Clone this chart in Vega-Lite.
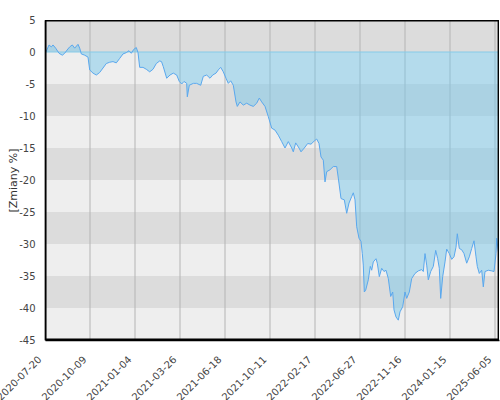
{
  "$schema": "https://vega.github.io/schema/vega-lite/v6.json",
  "width": 454,
  "height": 320,
  "autosize": "none",
  "padding": {"left": 45, "top": 20, "right": 1, "bottom": 60},
  "config": {
    "font": "DejaVu Sans",
    "view": {"stroke": null},
    "axis": {
      "labelOverlap": false,
      "labelBound": false,
      "labelFontSize": 10,
      "labelColor": "#444"
    },
    "axisX": {
      "labelAngle": -45,
      "labelAlign": "right",
      "labelOffset": -9,
      "labelPadding": 14
    },
    "axisY": {
      "labelPadding": 10,
      "titleFontSize": 11,
      "titleFontWeight": "normal",
      "titleColor": "#333"
    }
  },
  "datasets": {
    "bands": [
      {"top": 5, "bottom": 0, "shade": "dark"},
      {"top": 0, "bottom": -5, "shade": "light"},
      {"top": -5, "bottom": -10, "shade": "dark"},
      {"top": -10, "bottom": -15, "shade": "light"},
      {"top": -15, "bottom": -20, "shade": "dark"},
      {"top": -20, "bottom": -25, "shade": "light"},
      {"top": -25, "bottom": -30, "shade": "dark"},
      {"top": -30, "bottom": -35, "shade": "light"},
      {"top": -35, "bottom": -40, "shade": "dark"},
      {"top": -40, "bottom": -45, "shade": "light"}
    ],
    "ticks": [
      {"t": 0}, {"t": 45}, {"t": 90}, {"t": 135}, {"t": 180}, {"t": 225},
      {"t": 270}, {"t": 315}, {"t": 360}, {"t": 405}, {"t": 450}
    ],
    "zero": [{"z": 0}],
    "edges": [
      {"x0": 0, "x1": 454, "y0": 4.78, "y1": 5},
      {"x0": 0, "x1": 454, "y0": -45, "y1": -44.78},
      {"x0": 0, "x1": 1.4, "y0": -45, "y1": 5},
      {"x0": 452.6, "x1": 454, "y0": -45, "y1": 5}
    ],
    "series": [
      {"t": 0, "v": 0}, {"t": 1.3, "v": 0.1}, {"t": 4, "v": 1.1}, {"t": 6.3, "v": 0.8},
      {"t": 8, "v": 1.1}, {"t": 10.7, "v": 0.6}, {"t": 14, "v": -0.2}, {"t": 17.3, "v": -0.5},
      {"t": 19.7, "v": -0.2}, {"t": 22, "v": 0.3}, {"t": 24.7, "v": 0.8}, {"t": 27.3, "v": 1.1},
      {"t": 29.7, "v": 0.6}, {"t": 33, "v": 1.2}, {"t": 34.7, "v": 0.6}, {"t": 36.3, "v": -0.3},
      {"t": 39.7, "v": -0.5}, {"t": 43, "v": -0.8}, {"t": 44.7, "v": -2.8}, {"t": 48, "v": -3.3},
      {"t": 51.3, "v": -3.6}, {"t": 54.7, "v": -3.2}, {"t": 58, "v": -2.5}, {"t": 61.3, "v": -1.8},
      {"t": 64.7, "v": -1.6}, {"t": 68, "v": -1.5}, {"t": 71.3, "v": -1.7}, {"t": 74.7, "v": -1.0},
      {"t": 78, "v": -0.3}, {"t": 81.3, "v": -0.1}, {"t": 84, "v": 0.2}, {"t": 86.3, "v": -0.2},
      {"t": 88.7, "v": 0.4}, {"t": 91.3, "v": 0.7}, {"t": 93, "v": -0.1}, {"t": 94.7, "v": -2.4},
      {"t": 98, "v": -2.4}, {"t": 101.3, "v": -2.7}, {"t": 104.7, "v": -3.1}, {"t": 108, "v": -2.7},
      {"t": 111.3, "v": -1.8}, {"t": 114.7, "v": -1.4}, {"t": 116.5, "v": -1.5}, {"t": 118.3, "v": -2.3},
      {"t": 121.7, "v": -4.1}, {"t": 125, "v": -3.6}, {"t": 128.3, "v": -3.3}, {"t": 131.7, "v": -3.6},
      {"t": 134.3, "v": -4.6}, {"t": 136.7, "v": -5.0}, {"t": 139, "v": -4.6}, {"t": 141.7, "v": -4.9},
      {"t": 142.3, "v": -7.0}, {"t": 144.3, "v": -5.2}, {"t": 148.3, "v": -4.9}, {"t": 151.7, "v": -4.9},
      {"t": 155.7, "v": -5.2}, {"t": 158.3, "v": -3.8}, {"t": 161.7, "v": -3.6}, {"t": 165, "v": -4.1},
      {"t": 167.7, "v": -3.6}, {"t": 171, "v": -3.3}, {"t": 173.3, "v": -2.8}, {"t": 175.7, "v": -2.4},
      {"t": 178.3, "v": -3.1}, {"t": 181, "v": -4.1}, {"t": 183.3, "v": -4.9}, {"t": 185.7, "v": -4.5},
      {"t": 188.3, "v": -5.2}, {"t": 191, "v": -7.8}, {"t": 192.3, "v": -8.5}, {"t": 195, "v": -7.8},
      {"t": 198.3, "v": -8.3}, {"t": 201.7, "v": -8.0}, {"t": 205, "v": -8.3}, {"t": 208.3, "v": -8.5},
      {"t": 211.7, "v": -8.0}, {"t": 214.3, "v": -7.2}, {"t": 216.7, "v": -7.8}, {"t": 220, "v": -8.5},
      {"t": 223.3, "v": -10.1}, {"t": 226.7, "v": -11.9}, {"t": 230, "v": -12.2}, {"t": 233.3, "v": -13.0},
      {"t": 236.7, "v": -14.0}, {"t": 240, "v": -15.0}, {"t": 243.3, "v": -14.0}, {"t": 246.7, "v": -15.0},
      {"t": 248.3, "v": -15.6}, {"t": 250.7, "v": -14.2}, {"t": 254, "v": -15.0}, {"t": 256, "v": -15.6},
      {"t": 259.3, "v": -15.0}, {"t": 262.7, "v": -14.3}, {"t": 266, "v": -14.4}, {"t": 269.3, "v": -13.9},
      {"t": 271.7, "v": -13.6}, {"t": 274, "v": -14.3}, {"t": 276, "v": -16.4}, {"t": 278.3, "v": -16.9},
      {"t": 280, "v": -20.3}, {"t": 281.7, "v": -18.7}, {"t": 285, "v": -18.4}, {"t": 288.3, "v": -17.9},
      {"t": 291.7, "v": -17.9}, {"t": 293.3, "v": -19.7}, {"t": 296, "v": -22.9}, {"t": 299.3, "v": -23.1},
      {"t": 301.7, "v": -25.2}, {"t": 304, "v": -23.6}, {"t": 306.7, "v": -22.6}, {"t": 308.3, "v": -22.0},
      {"t": 310, "v": -23.1}, {"t": 311.7, "v": -27.3}, {"t": 314, "v": -29.1}, {"t": 316, "v": -29.6},
      {"t": 317.3, "v": -31.5}, {"t": 318.3, "v": -33.3}, {"t": 319.3, "v": -37.5}, {"t": 320.7, "v": -37.2},
      {"t": 323.3, "v": -35.6}, {"t": 325.3, "v": -33.5}, {"t": 326.7, "v": -34.1}, {"t": 328.3, "v": -32.8},
      {"t": 331, "v": -32.3}, {"t": 332.3, "v": -33.0}, {"t": 334.3, "v": -35.1}, {"t": 336.7, "v": -33.8},
      {"t": 339, "v": -34.3}, {"t": 341, "v": -34.1}, {"t": 343.3, "v": -35.4}, {"t": 345.7, "v": -38.2},
      {"t": 347.7, "v": -37.5}, {"t": 349, "v": -40.3}, {"t": 351, "v": -41.4}, {"t": 353.3, "v": -41.9},
      {"t": 355, "v": -40.6}, {"t": 357.7, "v": -39.8}, {"t": 360, "v": -37.5}, {"t": 361.7, "v": -38.5},
      {"t": 364.3, "v": -37.5}, {"t": 366.7, "v": -35.4}, {"t": 370, "v": -34.6}, {"t": 373.3, "v": -34.2},
      {"t": 376.7, "v": -34.0}, {"t": 378.3, "v": -34.3}, {"t": 380, "v": -31.5}, {"t": 381.7, "v": -33.3},
      {"t": 383.3, "v": -35.6}, {"t": 385.7, "v": -34.3}, {"t": 388.3, "v": -33.5}, {"t": 390.7, "v": -31.0},
      {"t": 392.7, "v": -32.3}, {"t": 394.3, "v": -33.8}, {"t": 395.7, "v": -38.5}, {"t": 397.7, "v": -35.1},
      {"t": 400, "v": -32.8}, {"t": 401.7, "v": -30.8}, {"t": 404.3, "v": -31.5}, {"t": 406.7, "v": -32.4},
      {"t": 409, "v": -32.0}, {"t": 411, "v": -30.5}, {"t": 412.3, "v": -28.4}, {"t": 414.3, "v": -30.7},
      {"t": 416.7, "v": -30.9}, {"t": 419, "v": -31.5}, {"t": 421.7, "v": -33.0}, {"t": 424.3, "v": -32.0},
      {"t": 426.7, "v": -30.7}, {"t": 429, "v": -29.5}, {"t": 431, "v": -32.0}, {"t": 432.3, "v": -33.5},
      {"t": 434.3, "v": -34.6}, {"t": 436.7, "v": -34.1}, {"t": 438.3, "v": -36.7}, {"t": 440, "v": -34.3},
      {"t": 443.3, "v": -34.1}, {"t": 446.7, "v": -34.2}, {"t": 449, "v": -34.3}, {"t": 451, "v": -31.5},
      {"t": 451.7, "v": -29.1}, {"t": 453.3, "v": -31.2}
    ]
  },
  "encoding": {
    "x": {
      "type": "quantitative",
      "scale": {"domain": [0, 454], "nice": false, "zero": false},
      "axis": {
        "values": [0, 45, 90, 135, 180, 225, 270, 315, 360, 405, 450],
        "labelExpr": "['2020-07-20','2020-10-09','2021-01-04','2021-03-26','2021-06-18','2021-10-11','2022-02-17','2022-06-27','2022-11-16','2024-01-15','2025-06-05'][round(datum.value / 45)]",
        "labelOverlap": false,
        "grid": false,
        "ticks": false,
        "domain": true,
        "domainColor": "black",
        "domainWidth": 1.5,
        "zindex": 1,
        "title": null
      }
    },
    "y": {
      "type": "quantitative",
      "scale": {"domain": [-45, 5], "nice": false, "zero": false},
      "axis": {
        "values": [5, 0, -5, -10, -15, -20, -25, -30, -35, -40, -45],
        "labelExpr": "toString(datum.value)",
        "labelOverlap": false,
        "grid": false,
        "ticks": false,
        "domain": true,
        "domainColor": "black",
        "domainWidth": 1.5,
        "zindex": 1,
        "title": "[Zmiany %]",
        "titleX": -32,
        "titleBaseline": "middle"
      }
    }
  },
  "layer": [
    {
      "data": {"name": "bands"},
      "mark": {"type": "rect"},
      "encoding": {
        "x": null,
        "y": {"field": "top", "type": "quantitative"},
        "y2": {"field": "bottom"},
        "color": {
          "field": "shade",
          "type": "nominal",
          "scale": {"domain": ["dark", "light"], "range": ["#dcdcdc", "#eeeeee"]},
          "legend": null
        }
      }
    },
    {
      "data": {"name": "ticks"},
      "mark": {"type": "rule", "color": "#b4b4b4", "strokeWidth": 1},
      "encoding": {
        "x": {"field": "t", "type": "quantitative"},
        "y": null
      }
    },
    {
      "data": {"name": "series"},
      "mark": {"type": "area", "color": "#7ac8ea", "opacity": 0.5},
      "encoding": {
        "x": {"field": "t", "type": "quantitative"},
        "y": {"field": "v", "type": "quantitative"},
        "y2": {"datum": 0}
      }
    },
    {
      "data": {"name": "zero"},
      "mark": {"type": "rule", "color": "#86cbe8", "strokeWidth": 1},
      "encoding": {
        "x": null,
        "y": {"field": "z", "type": "quantitative"}
      }
    },
    {
      "data": {"name": "series"},
      "mark": {"type": "line", "color": "#5aa8ee", "strokeWidth": 1},
      "encoding": {
        "x": {"field": "t", "type": "quantitative"},
        "y": {"field": "v", "type": "quantitative"}
      }
    },
    {
      "data": {"name": "edges"},
      "mark": {"type": "rect", "color": "black", "opacity": 1},
      "encoding": {
        "x": {"field": "x0", "type": "quantitative"},
        "x2": {"field": "x1"},
        "y": {"field": "y0", "type": "quantitative"},
        "y2": {"field": "y1"}
      }
    }
  ]
}
